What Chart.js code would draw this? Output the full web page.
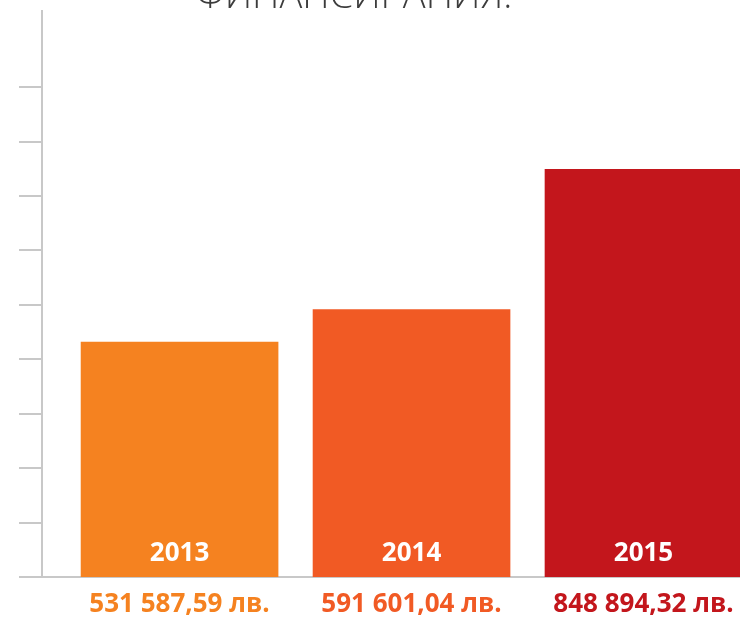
<!DOCTYPE html>
<html>
<head>
<meta charset="utf-8">
<script src="https://cdn.jsdelivr.net/npm/chart.js@4/dist/chart.umd.min.js"></script>
<style>
  html, body { margin: 0; padding: 0; background: #ffffff; overflow: hidden; }
  #wrap { position: relative; width: 740px; height: 621px; }
</style>
</head>
<body>
<div id="wrap"><canvas id="c"></canvas></div>
<script>
const titleText = 'ФИНАНСИРАНИЯ.';
const years = [2013, 2014, 2015];
const amounts = [531587.59, 591601.04, 848894.32];
const barColors = ['#F58220', '#F15A24', '#C3161C'];
const yTickValues = [100000, 200000, 300000, 400000, 500000, 600000, 700000, 800000, 900000, 1000000];
const currency = 'лв.';

function formatAmount(v) {
  const parts = v.toFixed(2).split('.');
  const intPart = parts[0].replace(/\B(?=(\d{3})+(?!\d))/g, ' ');
  return intPart + ',' + parts[1] + ' ' + currency;
}

const labelPlugin = {
  id: 'labels',
  afterDatasetsDraw(chart) {
    const ctx = chart.ctx;
    const meta = chart.getDatasetMeta(0);
    const bottom = chart.chartArea.bottom;
    ctx.save();
    ctx.textAlign = 'center';
    ctx.textBaseline = 'middle';
    meta.data.forEach((bar, i) => {
      ctx.fillStyle = '#ffffff';
      ctx.font = 'bold 26px "Open Sans"';
      ctx.fillText(String(years[i]), bar.x, bottom - 23);
      ctx.fillStyle = barColors[i];
      ctx.font = 'bold 26px "Open Sans"';
      ctx.fillText(formatAmount(amounts[i]), bar.x, bottom + 28);
    });
    ctx.restore();
  },
  afterDraw(chart) {
    const ctx = chart.ctx;
    ctx.save();
    ctx.textAlign = 'center';
    ctx.textBaseline = 'alphabetic';
    ctx.fillStyle = '#3c3c3c';
    ctx.font = '300 38px "Open Sans"';
    ctx.fillText(titleText, 354, 8);
    ctx.restore();
  }
};

new Chart(document.getElementById('c'), {
  type: 'bar',
  data: {
    datasets: [{
      data: years.map((y, i) => ({ x: y, y: amounts[i] })),
      backgroundColor: barColors,
      borderWidth: 0,
      barThickness: 197
    }]
  },
  options: {
    responsive: true,
    maintainAspectRatio: false,
    animation: false,
    layout: { padding: { left: 19, top: 11, right: 0, bottom: 44 } },
    plugins: { legend: { display: false }, tooltip: { enabled: false }, title: { display: false } },
    scales: {
      x: {
        type: 'linear',
        offset: false,
        min: 2012.407,
        max: 2015.416,
        grid: { display: false, drawTicks: false },
        ticks: { display: false },
        border: { display: true, color: '#c8c8c8', width: 2 }
      },
      y: {
        min: 100000,
        max: 1140000,
        afterBuildTicks: (scale) => { scale.ticks = yTickValues.map(v => ({ value: v })); },
        grid: { drawOnChartArea: false, drawTicks: true, tickLength: 23, color: '#c8c8c8', lineWidth: 2 },
        ticks: { display: false },
        border: { display: true, color: '#c8c8c8', width: 2 }
      }
    }
  },
  plugins: [labelPlugin]
});
</script>
</body>
</html>
